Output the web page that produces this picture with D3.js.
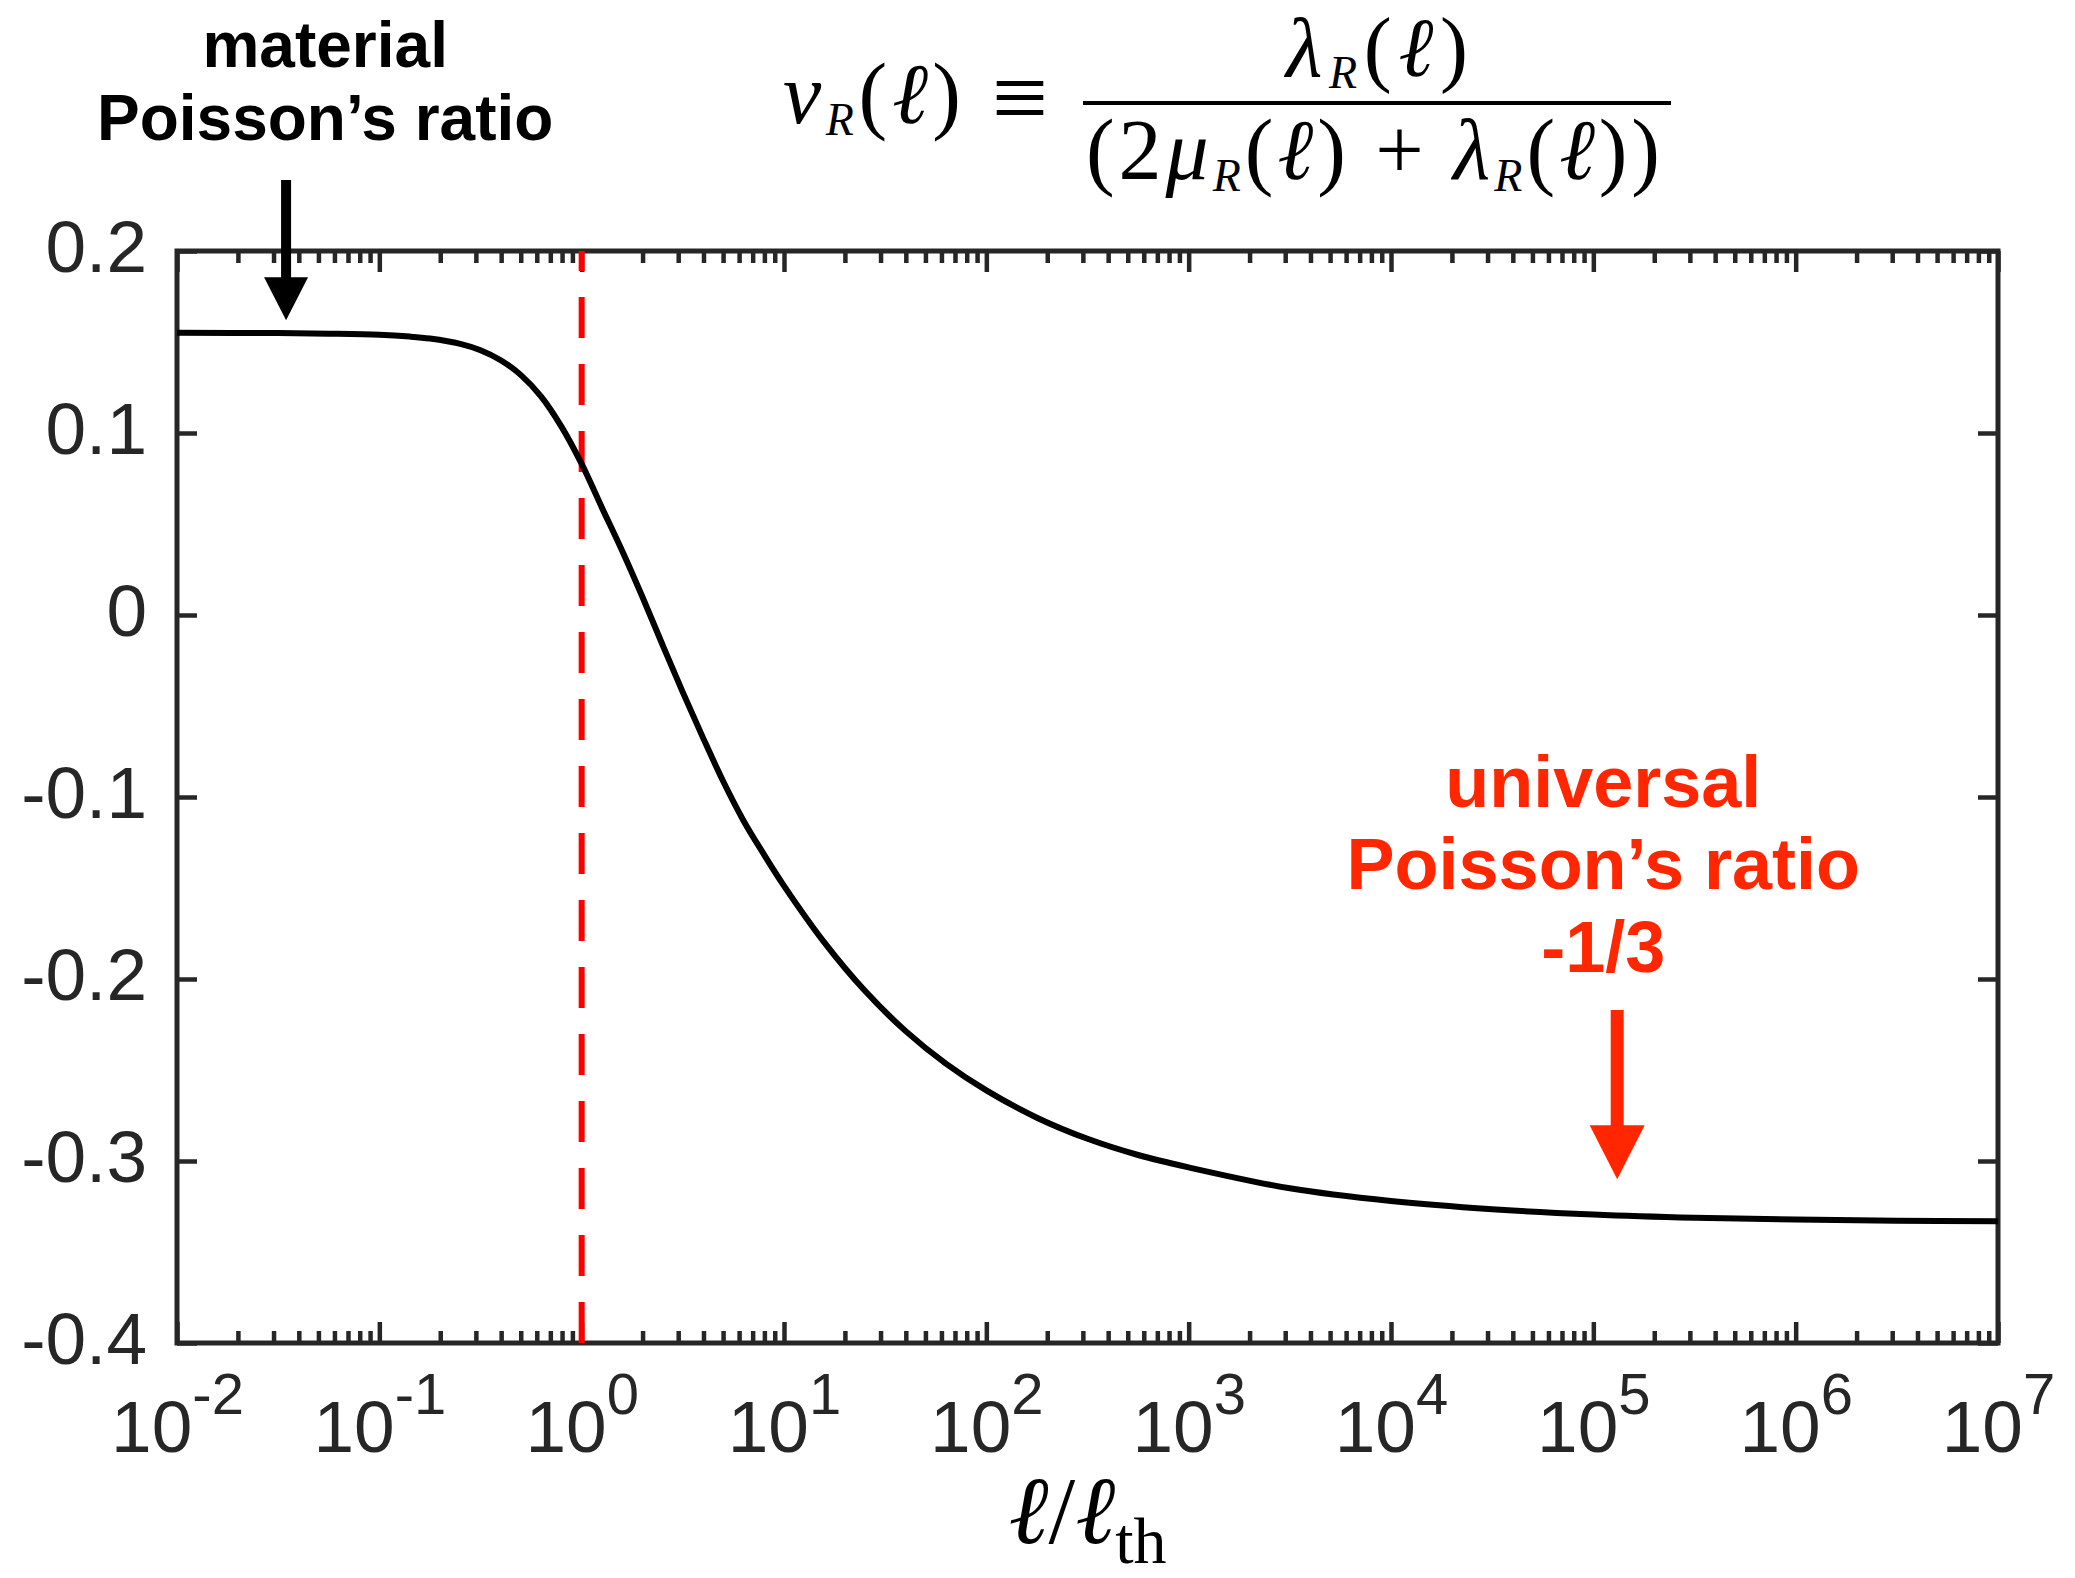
<!DOCTYPE html>
<html>
<head>
<meta charset="utf-8">
<script src="https://cdn.jsdelivr.net/npm/d3@7"></script>
<style>
  body { margin: 0; background: #fff; }
  svg { display: block; }
  .tick-label { font-family: "Liberation Sans", Arial, Helvetica, sans-serif; fill: #262626; }
  .math { font-family: "Liberation Serif", "DejaVu Serif", serif; fill: #000; }
  .note { font-family: "Liberation Sans", Arial, Helvetica, sans-serif; font-weight: bold; text-anchor: middle; }
</style>
</head>
<body>
<svg id="chart" width="2075" height="1578"></svg>
<script>
  const logEll = [-2.0, -1.5, -1.25, -1.0, -0.85, -0.75, -0.6, -0.5, -0.4, -0.3, -0.2, -0.1, 0.0,
                  0.1, 0.2, 0.3, 0.4, 0.5, 0.6, 0.7, 0.8, 0.9, 1.0,
                  1.2, 1.4, 1.6, 1.8, 2.0, 2.25, 2.5, 2.75, 3.0,
                  3.5, 4.0, 4.5, 5.0, 5.5, 6.0, 6.5, 7.0];
  const nuR = [0.1551, 0.1549, 0.1546, 0.1540, 0.1530, 0.1519, 0.1490, 0.1455, 0.1400, 0.1318, 0.1200, 0.1035, 0.0830,
               0.0590, 0.0353, 0.0100, -0.0165, -0.0425, -0.0675, -0.0915, -0.1130, -0.1314, -0.1488,
               -0.1800, -0.2065, -0.2285, -0.2465, -0.2612, -0.2762, -0.2878, -0.2967, -0.3035,
               -0.3150, -0.3220, -0.3265, -0.3294, -0.3312, -0.3322, -0.3328, -0.3331];

  const xDecades = [-2, -1, 0, 1, 2, 3, 4, 5, 6, 7];
  const yTicks = [-0.4, -0.3, -0.2, -0.1, 0, 0.1, 0.2];
  const yTickLabels = ['-0.4', '-0.3', '-0.2', '-0.1', '0', '0.1', '0.2'];
  const crossoverEll = 1;   // l = l_th, the dashed red line

  const materialNote = ['material', 'Poisson\u2019s ratio'];
  const universalNote = ['universal', 'Poisson\u2019s ratio', '-1/3'];

  // where the notes sit, in data units
  const materialAnchor = {ell: 0.054, lines: [0.301, 0.261], arrowEll: 0.0346, arrowFrom: 0.239, arrowTo: 0.162};
  const universalAnchor = {ell: 1.12e5, lines: [-0.1055, -0.1505, -0.1962], arrowEll: 1.312e5, arrowFrom: -0.217, arrowTo: -0.31};

  const axisColor = '#262626';
  const noteRed = '#ff2600';

  const svg = d3.select('#chart');
  const plot = {left: 177, right: 1998, top: 251, bottom: 1343};

  const x = d3.scaleLog().domain([1e-2, 1e7]).range([plot.left, plot.right]);
  const y = d3.scaleLinear().domain([-0.4, 0.2]).range([plot.bottom, plot.top]);

  const majorX = xDecades.map(e => Math.pow(10, e));
  const minorX = d3.merge(xDecades.slice(0, -1).map(e => d3.range(2, 10).map(m => m * Math.pow(10, e))));

  function styleAxis(g) {
    g.select('.domain').remove();
    g.selectAll('.tick line').attr('stroke', axisColor).attr('stroke-width', 4.5);
  }

  // minor ticks, bottom and top
  svg.append('g').attr('transform', `translate(0,${plot.bottom})`)
    .call(d3.axisBottom(x).tickValues(minorX).tickSize(-12).tickFormat(''))
    .call(styleAxis);
  svg.append('g').attr('transform', `translate(0,${plot.top})`)
    .call(d3.axisTop(x).tickValues(minorX).tickSize(-12).tickFormat(''))
    .call(styleAxis);

  // major ticks
  const bottomAxis = svg.append('g').attr('transform', `translate(0,${plot.bottom})`)
    .call(d3.axisBottom(x).tickValues(majorX).tickSize(-21).tickFormat(''))
    .call(styleAxis);
  svg.append('g').attr('transform', `translate(0,${plot.top})`)
    .call(d3.axisTop(x).tickValues(majorX).tickSize(-21).tickFormat(''))
    .call(styleAxis);

  bottomAxis.selectAll('.tick text')
    .attr('class', 'tick-label')
    .attr('y', 109)
    .attr('dy', null)
    .attr('font-size', 73)
    .each(function(d, i) {
      const t = d3.select(this);
      t.append('tspan').text('10');
      t.append('tspan').attr('dy', -38).attr('font-size', 58).text(xDecades[i]);
    });

  const leftAxis = svg.append('g').attr('transform', `translate(${plot.left},0)`)
    .call(d3.axisLeft(y).tickValues(yTicks).tickSize(-20).tickPadding(30).tickFormat((d, i) => yTickLabels[i]))
    .call(styleAxis);
  leftAxis.selectAll('.tick text')
    .attr('class', 'tick-label')
    .attr('font-size', 73)
    .attr('dy', '0.28em');

  svg.append('g').attr('transform', `translate(${plot.right},0)`)
    .call(d3.axisRight(y).tickValues(yTicks).tickSize(-20).tickFormat(''))
    .call(styleAxis);

  svg.append('rect')
    .attr('x', plot.left).attr('y', plot.top)
    .attr('width', plot.right - plot.left).attr('height', plot.bottom - plot.top)
    .attr('fill', 'none')
    .attr('stroke', axisColor)
    .attr('stroke-width', 5);

  // data
  svg.append('clipPath').attr('id', 'plotClip')
    .append('rect')
    .attr('x', plot.left).attr('y', plot.top)
    .attr('width', plot.right - plot.left).attr('height', plot.bottom - plot.top);

  svg.append('line')
    .attr('x1', x(crossoverEll)).attr('x2', x(crossoverEll))
    .attr('y1', y(-0.4)).attr('y2', y(0.2))
    .attr('stroke', '#ff0000')
    .attr('stroke-width', 6)
    .attr('stroke-dasharray', '41 26');

  const line = d3.line()
    .x(d => x(Math.pow(10, d[0])))
    .y(d => y(d[1]))
    .curve(d3.curveCatmullRom.alpha(0.5));

  svg.append('path').datum(d3.zip(logEll, nuR))
    .attr('clip-path', 'url(#plotClip)')
    .attr('fill', 'none')
    .attr('stroke', '#000')
    .attr('stroke-width', 6)
    .attr('stroke-linejoin', 'round')
    .attr('d', line);

  // annotations
  function arrow(ell, from, to, color, shaftW, headL, headW) {
    const ax = x(ell), y0 = y(from), y1 = y(to);
    svg.append('line')
      .attr('x1', ax).attr('x2', ax)
      .attr('y1', y0).attr('y2', y1 - headL + 2)
      .attr('stroke', color)
      .attr('stroke-width', shaftW);
    svg.append('path')
      .attr('d', `M${ax - headW / 2},${y1 - headL}L${ax + headW / 2},${y1 - headL}L${ax},${y1}Z`)
      .attr('fill', color);
  }

  function note(lines, anchor, color, size) {
    svg.selectAll(null).data(lines).enter()
      .append('text')
      .attr('class', 'note')
      .attr('x', x(anchor.ell))
      .attr('y', (d, i) => y(anchor.lines[i]))
      .attr('font-size', size)
      .attr('fill', color)
      .text(d => d);
  }

  note(materialNote, materialAnchor, '#000', 64);
  arrow(materialAnchor.arrowEll, materialAnchor.arrowFrom, materialAnchor.arrowTo, '#000', 10, 43, 44);

  note(universalNote, universalAnchor, noteRed, 72);
  arrow(universalAnchor.arrowEll, universalAnchor.arrowFrom, universalAnchor.arrowTo, noteRed, 13, 54, 55);

  // title: nu_R(l) = lambda_R(l) / (2 mu_R(l) + lambda_R(l))
  const title = svg.append('g').attr('class', 'math');

  function mathText(parent, xPos, yPos, size, parts, anchor, len) {
    const t = parent.append('text')
      .attr('x', xPos).attr('y', yPos)
      .attr('font-size', size)
      .attr('text-anchor', anchor);
    if (len) t.attr('textLength', len).attr('lengthAdjust', 'spacing');
    let shift = 0;
    parts.forEach(p => {
      const s = t.append('tspan').text(p.s);
      if (p.it) s.attr('font-style', 'italic');
      const want = p.sub ? 12 : 0;
      if (want !== shift) { s.attr('dy', want - shift); shift = want; }
      if (p.sub) s.attr('font-size', 46);
    });
    return t;
  }

  const ellArg = [{s: '('}, {s: '\u2113', it: true}, {s: ')'}];

  mathText(title, 783, 123, 86, [{s: '\u03bd', it: true}, {s: 'R', it: true, sub: true}].concat(ellArg), 'start', 178);

  title.append('text')
    .attr('x', 1020).attr('y', 131)
    .attr('font-size', 100)
    .attr('text-anchor', 'middle')
    .text('\u2261');

  title.append('line')
    .attr('x1', 1083).attr('x2', 1671)
    .attr('y1', 103).attr('y2', 103)
    .attr('stroke', '#000')
    .attr('stroke-width', 4);

  mathText(title, 1377, 76, 84, [{s: '\u03bb', it: true}, {s: 'R', it: true, sub: true}].concat(ellArg), 'middle', 182);

  mathText(title, 1373, 179, 86,
    [{s: '(2'}, {s: '\u03bc', it: true}, {s: 'R', it: true, sub: true}].concat(ellArg)
      .concat([{s: ' + '}, {s: '\u03bb', it: true}, {s: 'R', it: true, sub: true}])
      .concat(ellArg).concat([{s: ')'}]),
    'middle', 574);

  // x axis label: l / l_th
  const xLabel = svg.append('text')
    .attr('class', 'math')
    .attr('x', (plot.left + plot.right) / 2)
    .attr('y', 1543)
    .attr('text-anchor', 'middle')
    .attr('font-size', 96);
  xLabel.append('tspan').attr('font-style', 'italic').text('\u2113');
  xLabel.append('tspan').text('/');
  xLabel.append('tspan').attr('font-style', 'italic').text('\u2113');
  xLabel.append('tspan').attr('dy', 20).attr('font-size', 66).text('th');
</script>
</body>
</html>
